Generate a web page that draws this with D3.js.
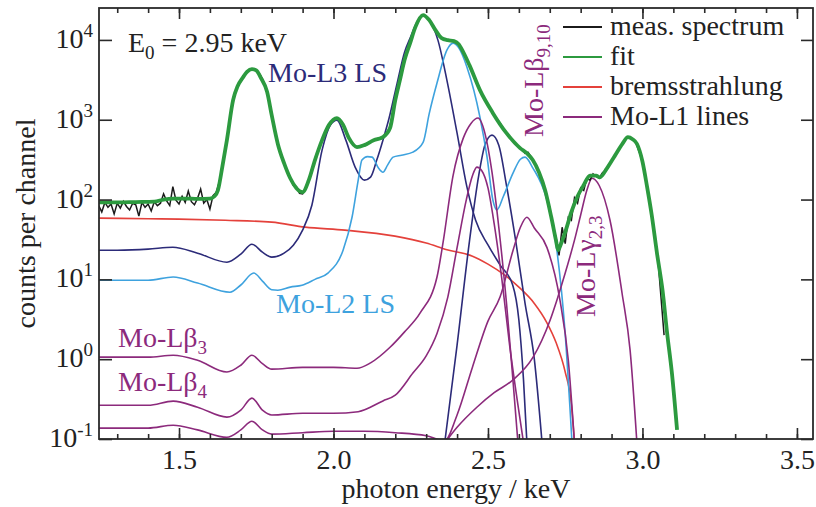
<!DOCTYPE html>
<html>
<head>
<meta charset="utf-8">
<script src="https://cdn.jsdelivr.net/npm/d3@7"></script>
<style>
  body { margin: 0; background: #fff; }
  text { font-family: "Liberation Serif", "Times New Roman", serif; }
</style>
</head>
<body>
<script>
const width = 816;
const height = 507;

// measured spectrum, one value per 10 eV channel starting at 1.24 keV
const measStart = 1.24;
const measStep = 0.01;
const measCounts = [
  84, 70, 92, 80, 88, 66, 90, 78, 95, 82,
  74, 90, 86, 62, 92, 80, 88, 72, 94, 84,
  90, 118, 96, 84, 145, 98, 88, 110, 92, 128,
  94, 86, 104, 135, 90, 100, 76, 112, 122, 165,
  250, 420, 750, 1330, 2050, 2650, 3150, 3600, 3970, 4270,
  4300, 4150, 3800, 3250, 2600, 1900, 1150, 750, 500, 360,
  290, 225, 190, 150, 145, 120, 118, 140, 170, 245,
  300, 410, 520, 650, 790, 900, 1000, 1050, 1000, 890,
  720, 590, 520, 470, 455, 465, 480, 510, 535, 560,
  580, 595, 610, 650, 760, 1100, 1760, 2500, 3800, 5590,
  7400, 9600, 12500, 15800, 18800, 20400, 19600, 17700, 15200, 13300,
  11700, 10500, 10100, 9900, 9800, 9600, 9200, 8400, 7100, 5900,
  4800, 3900, 3200, 2600, 2150, 1800, 1550, 1330, 1160, 1020,
  900, 780, 680, 600, 540, 490, 450, 430, 380, 390,
  340, 290, 250, 185, 160, 105, 80, 45, 34, 20,
  45, 28, 60, 55, 105, 90, 140, 130, 185, 175,
  210, 195, 185, 215, 235, 265, 300, 345, 400, 470,
  540, 600, 590, 560, 500, 390, 290, 190, 115, 62,
  35, 18, 6, 2
];

// [energy keV, counts]
const fit = [
  [1.24, 92], [1.30, 92], [1.36, 93], [1.42, 94], [1.45, 100], [1.48, 103], [1.52, 103],
  [1.56, 102], [1.60, 103], [1.615, 110], [1.626, 131], [1.64, 255], [1.655, 555],
  [1.675, 1760], [1.69, 2650], [1.707, 3400], [1.72, 3970], [1.736, 4310], [1.75, 4150],
  [1.765, 3340], [1.785, 2240], [1.80, 1140], [1.82, 494], [1.84, 286], [1.86, 185],
  [1.88, 139], [1.90, 124], [1.92, 175], [1.94, 312], [1.963, 555], [1.985, 856],
  [2.011, 1050], [2.03, 880], [2.05, 588], [2.076, 454], [2.10, 481], [2.13, 555],
  [2.16, 605], [2.183, 785], [2.20, 1760], [2.215, 3140], [2.23, 5590], [2.248, 9120],
  [2.265, 14470], [2.29, 20460], [2.31, 17700], [2.33, 13270], [2.35, 10540], [2.37, 9940],
  [2.39, 9660], [2.405, 8860], [2.42, 7030], [2.44, 4830], [2.474, 2350], [2.516, 1210],
  [2.56, 679], [2.604, 441], [2.626, 381], [2.645, 313], [2.665, 220], [2.685, 131],
  [2.705, 60], [2.72, 31], [2.727, 23.2], [2.735, 27], [2.75, 39], [2.77, 70], [2.79, 110],
  [2.81, 152], [2.83, 200], [2.85, 200], [2.862, 190], [2.885, 246], [2.91, 350],
  [2.935, 500], [2.953, 605], [2.968, 570], [2.982, 500], [3.0, 300], [3.015, 144],
  [3.03, 64], [3.047, 21.3], [3.065, 7.3], [3.08, 2.1], [3.095, 0.69], [3.112, 0.13]
];

const bremsstrahlung = [
  [1.24, 58.5], [1.40, 57.5], [1.50, 56.8], [1.65, 55], [1.80, 52.1], [1.908, 45.1],
  [2.037, 41.4], [2.199, 34.8], [2.30, 28.5], [2.367, 23.5], [2.45, 19.5], [2.50, 15.5],
  [2.55, 11.6], [2.60, 8], [2.65, 5], [2.69, 2.9], [2.72, 1.63], [2.75, 0.69],
  [2.77, 0.27], [2.78, 0.09]
];

// Mo-L3 line series
const moL3 = [
  [1.24, 23.2], [1.30, 23.2], [1.40, 23.9], [1.48, 25.3], [1.56, 21.3], [1.655, 16.4],
  [1.70, 20.7], [1.736, 27.6], [1.77, 21.9], [1.80, 19], [1.84, 21.3], [1.87, 26.8],
  [1.90, 41.4], [1.93, 85], [1.963, 416], [1.99, 856], [2.011, 988], [2.04, 555],
  [2.07, 255], [2.10, 175], [2.12, 191], [2.14, 312], [2.16, 555], [2.18, 1050],
  [2.206, 2880], [2.23, 7030], [2.248, 10540], [2.27, 16700], [2.29, 20460], [2.31, 17700],
  [2.338, 9940], [2.367, 3140], [2.40, 679], [2.432, 143], [2.46, 55], [2.50, 27],
  [2.54, 15], [2.58, 8.5], [2.60, 3.1], [2.615, 0.55], [2.626, 0.09]
];
const moLb215 = [
  [2.36, 0.09], [2.40, 1.5], [2.44, 30], [2.47, 200], [2.49, 480], [2.513, 641],
  [2.535, 480], [2.56, 150], [2.59, 30], [2.62, 5], [2.65, 1], [2.675, 0.09]
];

// Mo-L2 line series
const moL2 = [
  [1.24, 9.77], [1.40, 9.77], [1.481, 10.7], [1.56, 9], [1.665, 6.91], [1.70, 8.5],
  [1.742, 12], [1.77, 9.5], [1.80, 7.4], [1.82, 7.3], [1.86, 8], [1.898, 8.45],
  [1.94, 10], [1.982, 12], [2.031, 23.2], [2.06, 60], [2.08, 175], [2.092, 312],
  [2.11, 345], [2.125, 340], [2.145, 250], [2.16, 220], [2.175, 270], [2.193, 340],
  [2.22, 360], [2.257, 393], [2.29, 520], [2.31, 1200], [2.335, 2880], [2.367, 7450],
  [2.387, 9120], [2.405, 8000], [2.432, 4560], [2.474, 1080], [2.497, 340], [2.516, 98],
  [2.529, 74], [2.55, 110], [2.581, 214], [2.605, 320], [2.62, 340], [2.645, 250],
  [2.691, 98], [2.723, 23.2], [2.749, 2.31], [2.772, 0.09]
];

// Mo-L1 lines
const moLb3 = [
  [1.24, 1.06], [1.40, 1.06], [1.481, 1.12], [1.56, 0.97], [1.655, 0.69], [1.70, 0.84],
  [1.736, 1.12], [1.77, 0.88], [1.80, 0.75], [1.90, 0.79], [2.00, 0.79], [2.076, 0.77],
  [2.12, 0.9], [2.183, 1.41], [2.23, 2.2], [2.28, 3.77], [2.335, 10.7], [2.354, 28],
  [2.387, 200], [2.42, 588], [2.445, 900], [2.468, 1050], [2.49, 680], [2.513, 220],
  [2.535, 45], [2.56, 5], [2.58, 0.6], [2.597, 0.09]
];
const moLb4 = [
  [1.24, 0.265], [1.40, 0.265], [1.481, 0.298], [1.56, 0.25], [1.655, 0.188], [1.70, 0.23],
  [1.736, 0.325], [1.77, 0.23], [1.80, 0.2], [1.90, 0.21], [2.00, 0.21], [2.08, 0.22],
  [2.16, 0.3], [2.20, 0.354], [2.257, 0.67], [2.30, 1.1], [2.335, 2.1], [2.37, 6],
  [2.40, 25], [2.43, 100], [2.45, 200], [2.464, 255], [2.48, 230], [2.50, 140],
  [2.52, 50], [2.545, 10], [2.57, 1.5], [2.595, 0.3], [2.615, 0.09]
];
const moLb910 = [
  [1.24, 0.137], [1.40, 0.137], [1.481, 0.149], [1.56, 0.13], [1.655, 0.105], [1.70, 0.13],
  [1.736, 0.167], [1.77, 0.13], [1.80, 0.115], [1.90, 0.12], [2.00, 0.125], [2.10, 0.125],
  [2.20, 0.12], [2.30, 0.11], [2.36, 0.095], [2.40, 0.2], [2.45, 0.8], [2.50, 3],
  [2.539, 6], [2.581, 23], [2.605, 45], [2.626, 60], [2.65, 44], [2.691, 25],
  [2.733, 5.5], [2.76, 0.97], [2.78, 0.09]
];
const moLg23 = [
  [2.361, 0.09], [2.40, 0.14], [2.464, 0.25], [2.52, 0.38], [2.581, 0.55], [2.646, 1.06],
  [2.701, 3.08], [2.723, 5.49], [2.75, 12], [2.78, 31], [2.80, 64], [2.82, 131],
  [2.837, 185], [2.86, 150], [2.895, 55], [2.934, 6.7], [2.96, 1.3], [2.982, 0.09]
];

const xMajor = [1.5, 2.0, 2.5, 3.0, 3.5];
const xMinor = d3.range(13, 36).map(v => v / 10);
const yDecades = [0.1, 1, 10, 100, 1000, 10000];
const yExponents = ["-1", "0", "1", "2", "3", "4"];

const legendNames = ["meas. spectrum", "fit", "bremsstrahlung", "Mo-L1 lines"];
const colors = {
  meas: "#1b1b1b", fit: "#2c9a3f", brems: "#e4413b",
  l3: "#2c2b79", l2: "#3ea2de", l1: "#8c2a7c"
};
const legendColors = [colors.meas, colors.fit, colors.brems, colors.l1];

const pLeft = 99, pRight = 813, pTop = 8, pBottom = 439;

let svg = d3.select("body").append("svg")
  .attr("width", width)
  .attr("height", height);

const x = d3.scaleLinear().domain([1.241, 3.552]).range([pLeft, pRight]);
const y = d3.scaleLog().domain([0.1, Math.pow(10, 4.4)]).range([pBottom, pTop]);

svg.append("defs").append("clipPath").attr("id", "plotclip")
  .append("rect")
  .attr("x", pLeft).attr("y", pTop)
  .attr("width", pRight - pLeft).attr("height", pBottom - pTop);

const plot = svg.append("g").attr("clip-path", "url(#plotclip)");

const smooth = d3.line()
  .x(d => x(d[0]))
  .y(d => y(d[1]))
  .curve(d3.curveMonotoneX);

const components = [
  { data: bremsstrahlung, color: colors.brems },
  { data: moL3, color: colors.l3 },
  { data: moLb215, color: colors.l3 },
  { data: moL2, color: colors.l2 },
  { data: moLb3, color: colors.l1 },
  { data: moLb4, color: colors.l1 },
  { data: moLb910, color: colors.l1 },
  { data: moLg23, color: colors.l1 }
];

plot.selectAll("path.comp")
  .data(components)
  .join("path")
  .attr("class", "comp")
  .attr("d", d => smooth(d.data))
  .attr("fill", "none")
  .attr("stroke", d => d.color)
  .attr("stroke-width", 1.6);

// measured spectrum under the fit
const measLine = d3.line()
  .x((d, i) => x(measStart + i * measStep))
  .y(d => y(d));
plot.append("path")
  .attr("d", measLine(measCounts))
  .attr("fill", "none")
  .attr("stroke", colors.meas)
  .attr("stroke-width", 1.5);

plot.append("path")
  .attr("d", smooth(fit))
  .attr("fill", "none")
  .attr("stroke", colors.fit)
  .attr("stroke-width", 3.8)
  .attr("stroke-linejoin", "round");

// frame and inward ticks
const tickStyle = g => {
  g.select(".domain").remove();
  g.selectAll("line").attr("stroke", "#2a2a2a").attr("stroke-width", 1.6);
};

svg.append("g").attr("transform", `translate(0,${pBottom})`)
  .call(d3.axisBottom(x).tickValues(xMinor).tickSize(-5).tickFormat(""))
  .call(tickStyle);
svg.append("g").attr("transform", `translate(0,${pBottom})`)
  .call(d3.axisBottom(x).tickValues(xMajor).tickSize(-11).tickPadding(10).tickFormat(d3.format(".1f")))
  .call(tickStyle)
  .call(g => g.selectAll("text").attr("font-size", 28).attr("fill", "#222")
    .attr("font-family", "Liberation Serif, serif"));
svg.append("g").attr("transform", `translate(0,${pTop})`)
  .call(d3.axisTop(x).tickValues(xMinor).tickSize(-5).tickFormat(""))
  .call(tickStyle);
svg.append("g").attr("transform", `translate(0,${pTop})`)
  .call(d3.axisTop(x).tickValues(xMajor).tickSize(-11).tickFormat(""))
  .call(tickStyle);
svg.append("g").attr("transform", `translate(${pLeft},0)`)
  .call(d3.axisLeft(y).tickValues(yDecades).tickSize(-13).tickFormat(""))
  .call(tickStyle);
svg.append("g").attr("transform", `translate(${pRight},0)`)
  .call(d3.axisRight(y).tickValues(yDecades).tickSize(-12).tickFormat(""))
  .call(tickStyle);

svg.append("rect")
  .attr("x", pLeft).attr("y", pTop)
  .attr("width", pRight - pLeft).attr("height", pBottom - pTop)
  .attr("fill", "none")
  .attr("stroke", "#2a2a2a")
  .attr("stroke-width", 1.8);

// y tick labels as powers of ten
const yLab = svg.selectAll("text.ylab")
  .data(yDecades)
  .join("text")
  .attr("class", "ylab")
  .attr("x", 93)
  .attr("y", d => y(d) + 8)
  .attr("text-anchor", "end")
  .attr("font-size", 28)
  .attr("fill", "#222");
yLab.append("tspan").text("10");
yLab.append("tspan").attr("font-size", 19).attr("dy", -11).text((d, i) => yExponents[i]);

// axis titles
svg.append("text")
  .attr("x", (pLeft + pRight) / 2).attr("y", 498)
  .attr("text-anchor", "middle")
  .attr("font-size", 28).attr("fill", "#222")
  .text("photon energy / keV");
svg.append("text")
  .attr("transform", `translate(35,${(pTop + pBottom) / 2}) rotate(-90)`)
  .attr("text-anchor", "middle")
  .attr("font-size", 28).attr("fill", "#222")
  .text("counts per channel");

// text with subscript parts
function label(px, py, parts, color, rotate) {
  const t = svg.append("text")
    .attr("transform", `translate(${px},${py})` + (rotate ? " rotate(-90)" : ""))
    .attr("font-size", 28)
    .attr("fill", color);
  let shift = 0;
  parts.forEach(p => {
    const s = t.append("tspan").text(p[0]);
    const want = p[1] === "sub" ? 7 : 0;
    if (p[1] === "sub") s.attr("font-size", 19);
    if (want !== shift) { s.attr("dy", want - shift); shift = want; }
  });
}

label(128, 52, [["E"], ["0", "sub"], [" = 2.95 keV"]], "#222");
label(268, 82, [["Mo-L3 LS"]], colors.l3);
label(276, 313, [["Mo-L2 LS"]], colors.l2);
label(118, 347, [["Mo-Lβ"], ["3", "sub"]], colors.l1);
label(118, 391, [["Mo-Lβ"], ["4", "sub"]], colors.l1);
label(543, 137, [["Mo-Lβ"], ["9,10", "sub"]], colors.l1, true);
label(595, 317, [["Mo-Lγ"], ["2,3", "sub"]], colors.l1, true);

// legend
const legend = svg.append("g");
const rows = legend.selectAll("g")
  .data(legendNames)
  .join("g")
  .attr("transform", (d, i) => `translate(563,${27 + i * 30})`);
rows.append("line")
  .attr("x1", 0).attr("x2", 39)
  .attr("stroke", (d, i) => legendColors[i])
  .attr("stroke-width", 1.8);
rows.append("text")
  .attr("x", 47).attr("dy", "0.3em")
  .attr("font-size", 28).attr("fill", "#222")
  .text(d => d);
</script>
</body>
</html>
